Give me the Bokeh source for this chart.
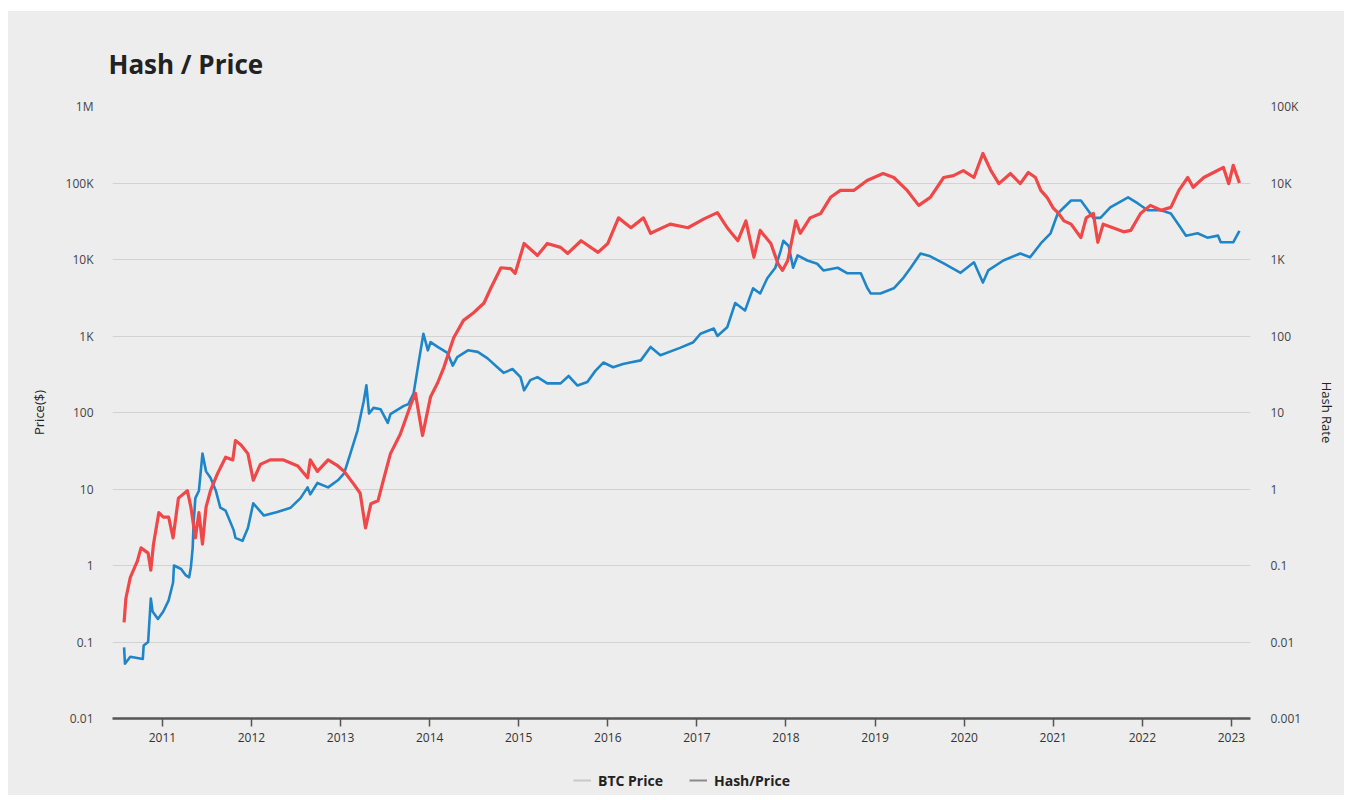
from bokeh.plotting import figure
from bokeh.layouts import column
from bokeh.models import (Range1d, LogScale, LogAxis, FixedTicker,
                          CustomJSTickFormatter, Legend, LegendItem)
from bokeh.embed import file_html
from bokeh.resources import INLINE

# ---------------- data ----------------
year_ticks = list(range(2011, 2024))
price_ticks = [0.01, 0.1, 1, 10, 100, 1000, 10000, 100000, 1000000]
price_labels = ["0.01", "0.1", "1", "10", "100", "1K", "10K", "100K", "1M"]
hash_ticks = [0.001, 0.01, 0.1, 1, 10, 100, 1000, 10000, 100000]
hash_labels = ["0.001", "0.01", "0.1", "1", "10", "100", "1K", "10K", "100K"]

# BTC price (left axis, $)
btc_years = [2010.57, 2010.58, 2010.64, 2010.78, 2010.79, 2010.84, 2010.87, 2010.89, 2010.95,
             2011.01, 2011.07, 2011.12, 2011.13, 2011.21, 2011.26, 2011.30, 2011.32, 2011.34,
             2011.35, 2011.37, 2011.41, 2011.45, 2011.49, 2011.54, 2011.60, 2011.65, 2011.71,
             2011.80, 2011.82, 2011.90, 2011.96, 2012.02, 2012.14, 2012.29, 2012.44, 2012.55,
             2012.63, 2012.66, 2012.74, 2012.86, 2012.97, 2013.04, 2013.11, 2013.19, 2013.26,
             2013.29, 2013.32, 2013.37, 2013.45, 2013.53, 2013.56, 2013.71, 2013.76, 2013.82,
             2013.88, 2013.93, 2013.98, 2014.01, 2014.09, 2014.20, 2014.26, 2014.31, 2014.43,
             2014.54, 2014.65, 2014.76, 2014.83, 2014.93, 2015.02, 2015.06, 2015.13, 2015.21,
             2015.32, 2015.47, 2015.56, 2015.66, 2015.77, 2015.86, 2015.95, 2016.06, 2016.17,
             2016.25, 2016.37, 2016.48, 2016.59, 2016.81, 2016.96, 2017.04, 2017.19, 2017.23,
             2017.34, 2017.43, 2017.54, 2017.63, 2017.71, 2017.79, 2017.88, 2017.94, 2017.97,
             2018.03, 2018.08, 2018.13, 2018.24, 2018.35, 2018.42, 2018.58, 2018.69, 2018.84,
             2018.91, 2018.95, 2019.06, 2019.21, 2019.32, 2019.40, 2019.51, 2019.62, 2019.77,
             2019.96, 2020.11, 2020.21, 2020.27, 2020.44, 2020.63, 2020.74, 2020.86, 2020.97,
             2021.05, 2021.20, 2021.31, 2021.39, 2021.45, 2021.53, 2021.64, 2021.84, 2021.95,
             2022.06, 2022.21, 2022.32, 2022.43, 2022.49, 2022.62, 2022.73, 2022.85, 2022.88,
             2023.02, 2023.09]
btc_price = [0.085, 0.052, 0.064, 0.06, 0.09, 0.10, 0.37, 0.25, 0.20,
             0.25, 0.35, 0.6, 1.0, 0.9, 0.75, 0.7, 0.95, 1.7,
             3.5, 7.6, 9.5, 29, 17, 14, 9.5, 5.7, 5.2,
             2.9, 2.3, 2.1, 3.1, 6.5, 4.5, 5.0, 5.7, 7.6,
             10.5, 8.5, 12, 10.5, 13, 16, 29, 58, 140,
             227, 97, 115, 110, 73, 95, 122, 128, 178,
             480, 1070, 650, 830, 720, 600, 410, 530, 650,
             620, 510, 390, 330, 370, 290, 195, 265, 290,
             240, 240, 300, 225, 250, 350, 450, 390, 430,
             450, 480, 720, 560, 700, 830, 1070, 1250, 1000,
             1300, 2700, 2150, 4200, 3600, 5700, 7800, 13000, 17600,
             15000, 7800, 11300, 9700, 8800, 7200, 7800, 6600, 6600,
             4300, 3600, 3600, 4200, 5800, 7800, 12000, 11000, 8900,
             6700, 9200, 5000, 7200, 9700, 12000, 10700, 16200, 22000,
             40000, 59000, 59000, 44000, 35000, 35000, 48000, 65000, 54000,
             44000, 44000, 40000, 26000, 20500, 22000, 19300, 20500, 16800,
             16800, 23600]

# Hash / Price (right axis)
hp_years = [2010.57, 2010.59, 2010.64, 2010.72, 2010.76, 2010.84, 2010.87, 2010.90, 2010.96,
            2011.01, 2011.07, 2011.12, 2011.18, 2011.28, 2011.32, 2011.37, 2011.41, 2011.45,
            2011.49, 2011.54, 2011.62, 2011.71, 2011.79, 2011.82, 2011.88, 2011.96, 2012.02,
            2012.10, 2012.21, 2012.36, 2012.52, 2012.63, 2012.66, 2012.74, 2012.86, 2012.97,
            2013.04, 2013.15, 2013.22, 2013.28, 2013.34, 2013.42, 2013.48, 2013.56, 2013.67,
            2013.79, 2013.84, 2013.92, 2014.01, 2014.09, 2014.16, 2014.27, 2014.38, 2014.49,
            2014.61, 2014.69, 2014.80, 2014.91, 2014.96, 2015.06, 2015.21, 2015.32, 2015.47,
            2015.55, 2015.70, 2015.89, 2016.00, 2016.12, 2016.26, 2016.40, 2016.48, 2016.70,
            2016.90, 2017.08, 2017.23, 2017.34, 2017.46, 2017.55, 2017.64, 2017.71, 2017.83,
            2017.91, 2017.96, 2018.02, 2018.11, 2018.16, 2018.27, 2018.39, 2018.50, 2018.61,
            2018.76, 2018.91, 2019.09, 2019.21, 2019.36, 2019.49, 2019.62, 2019.77, 2019.88,
            2019.99, 2020.11, 2020.21, 2020.30, 2020.39, 2020.52, 2020.63, 2020.72, 2020.80,
            2020.86, 2020.93, 2021.00, 2021.06, 2021.12, 2021.20, 2021.31, 2021.37, 2021.45,
            2021.50, 2021.56, 2021.67, 2021.79, 2021.87, 2021.98, 2022.09, 2022.21, 2022.32,
            2022.41, 2022.51, 2022.57, 2022.69, 2022.80, 2022.91, 2022.97, 2023.02, 2023.09]
hash_price = [0.018, 0.037, 0.07, 0.115, 0.17, 0.145, 0.087, 0.19, 0.49,
              0.43, 0.43, 0.23, 0.76, 0.95, 0.58, 0.23, 0.49, 0.19,
              0.58, 0.95, 1.6, 2.6, 2.4, 4.3, 3.8, 2.9, 1.3,
              2.1, 2.4, 2.4, 2.0, 1.4, 2.4, 1.7, 2.4, 2.0,
              1.7, 1.15, 0.88, 0.31, 0.64, 0.7, 1.3, 2.9, 5.2,
              12.8, 17.8, 5.0, 16, 24.5, 39, 95, 160, 200,
              270, 430, 780, 760, 660, 1620, 1130, 1620, 1440,
              1200, 1760, 1240, 1620, 3500, 2600, 3500, 2200, 2900,
              2600, 3400, 4100, 2600, 1760, 3200, 1070, 2400, 1620,
              880, 720, 970, 3200, 2200, 3500, 4000, 6500, 8000,
              8000, 10800, 13300, 11800, 8000, 5100, 6500, 11800, 12500,
              14500, 11800, 24300, 14500, 9800, 13300, 9800, 13700, 11800,
              8000, 6500, 4700, 4000, 3200, 2900, 1930, 3500, 4000,
              1680, 2900, 2600, 2300, 2400, 4000, 5100, 4400, 4800,
              8000, 11800, 8800, 11800, 13700, 16000, 9800, 17000, 10000]

legend_labels = ["BTC Price", "Hash/Price"]

# ---------------- styling ----------------
BG = "#EDEDED"
FONT = "Open Sans"
BLUE = "#1E86C8"
RED = "#F04848"

p = figure(width=1336, height=744,
           x_range=Range1d(2010.44, 2023.214),
           y_range=Range1d(0.01, 1e6), y_axis_type="log",
           output_backend="svg", toolbar_location=None,
           background_fill_color=BG, border_fill_color=BG,
           outline_line_color=None,
           min_border_left=104, min_border_right=94,
           min_border_top=95, min_border_bottom=37)

p.extra_y_ranges = {"hash": Range1d(0.001, 1e5)}
p.extra_y_scales = {"hash": LogScale()}

p.title.text = "Hash / Price"
p.title.text_font = FONT
p.title.text_font_size = "26px"
p.title.text_font_style = "bold"
p.title.text_color = "#222222"
p.title.align = "left"
p.title.offset = -4
p.title.standoff = 50

fmt_code = """
for (let i = 0; i < tvals.length; i++) {
  if (Math.abs(Math.log10(tvals[i]) - Math.log10(tick)) < 1e-6) return tlabels[i];
}
return '';
"""

# left axis
la = p.yaxis[0]
la.ticker = FixedTicker(ticks=price_ticks)
la.formatter = CustomJSTickFormatter(args=dict(tvals=price_ticks, tlabels=price_labels), code=fmt_code)
la.axis_label = "Price($)"

# right axis
ra = LogAxis(y_range_name="hash", axis_label="Hash Rate")
ra.ticker = FixedTicker(ticks=hash_ticks)
ra.formatter = CustomJSTickFormatter(args=dict(tvals=hash_ticks, tlabels=hash_labels), code=fmt_code)
p.add_layout(ra, "right")

for ax in (la, ra):
    ax.axis_line_color = None
    ax.major_tick_line_color = None
    ax.minor_tick_line_color = None
    ax.major_label_text_font = FONT
    ax.major_label_text_font_size = "12px"
    ax.major_label_text_color = "#444444"
    ax.axis_label_text_font = FONT
    ax.axis_label_text_font_size = "13px"
    ax.axis_label_text_font_style = "normal"
    ax.axis_label_text_color = "#222222"
la.major_label_standoff = 13
la.axis_label_standoff = 15
ra.major_label_standoff = 14
ra.axis_label_standoff = 14

xa = p.xaxis[0]
xa.ticker = FixedTicker(ticks=year_ticks)
xa.axis_line_color = "#555555"
xa.axis_line_width = 2.5
xa.major_tick_line_color = "#555555"
xa.major_tick_line_width = 1.5
xa.major_tick_out = 8
xa.major_tick_in = 0
xa.minor_tick_line_color = None
xa.major_label_text_font = FONT
xa.major_label_text_font_size = "12px"
xa.major_label_text_color = "#333333"
xa.major_label_standoff = 6

p.xgrid.grid_line_color = None
p.ygrid.grid_line_color = "#D2D2D2"
p.ygrid.grid_line_width = 1
p.ygrid.minor_grid_line_color = None

p.line(btc_years, btc_price, line_color=BLUE, line_width=2.6, line_join="round")
p.line(hp_years, hash_price, y_range_name="hash", line_color=RED, line_width=3.2, line_join="round")

# ---------------- legend strip below the chart ----------------
q = figure(width=1336, height=40, x_range=Range1d(0, 1), y_range=Range1d(0, 1),
           output_backend="svg", toolbar_location=None,
           background_fill_color=BG, border_fill_color=BG,
           outline_line_color=None, min_border=0)
q.axis.visible = False
q.grid.grid_line_color = None
# swatch renderers (grey, as in the reference); their data lies outside the visible range
d1 = q.line([5, 6], [5, 5], line_color="#C8C8C8", line_width=2)
d2 = q.line([5, 6], [5, 5], line_color="#8A8A8A", line_width=2)
legend = Legend(items=[LegendItem(label=legend_labels[0], renderers=[d1]),
                       LegendItem(label=legend_labels[1], renderers=[d2])],
                orientation="horizontal", location=(461, 5),
                border_line_color=None, background_fill_alpha=0,
                label_text_font=FONT, label_text_font_size="14px",
                label_text_font_style="bold", label_text_color="#222222",
                glyph_width=18, label_standoff=7, spacing=26, padding=6, margin=0)
q.add_layout(legend, "center")

layout = column(p, q, spacing=0, styles={"background-color": BG})
layout.margin = (11, 8, 5, 8)
open("out.html", "w").write(file_html(layout, INLINE))
